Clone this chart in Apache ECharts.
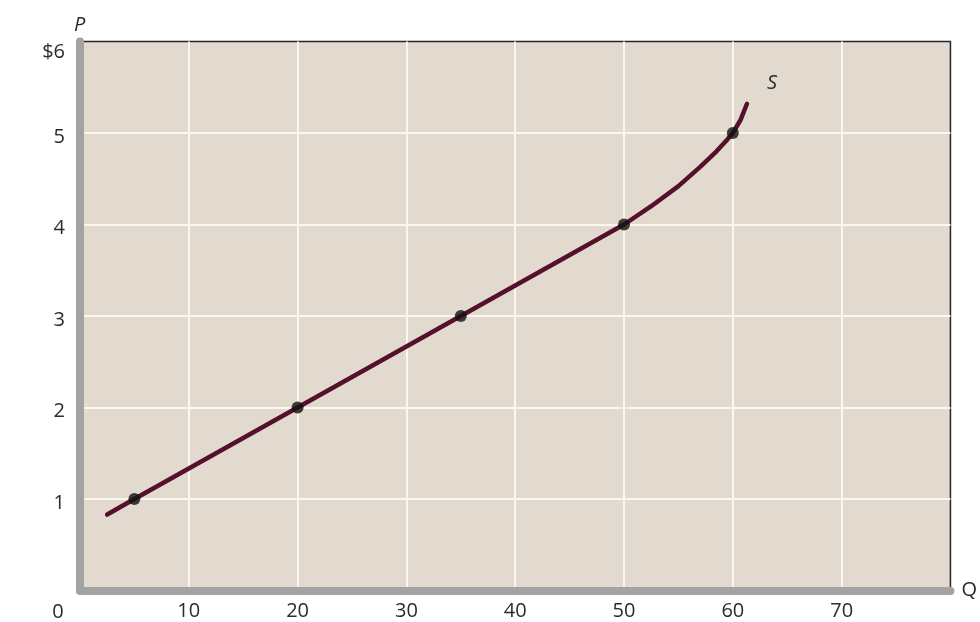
<!DOCTYPE html>
<html>
<head>
<meta charset="utf-8">
<script src="https://cdn.jsdelivr.net/npm/echarts@6/dist/echarts.min.js"></script>
<style>html,body{margin:0;padding:0;background:#fff;}#c{width:980px;height:622px;}</style>
</head>
<body>
<div id="c"></div>
<script>
// Supply schedule points (quantity, price)
const pointQ = [5, 20, 35, 50, 60];
const pointP = [1, 2, 3, 4, 5];
// Supply curve S
const curveQ = [2.5, 5, 20, 35, 50, 52.5, 55, 57, 58.5, 59.5, 60, 60.7, 61.3];
const curveP = [0.83, 1, 2, 3, 4, 4.2, 4.42, 4.63, 4.8, 4.93, 5, 5.14, 5.32];
const xTicks = [0, 10, 20, 30, 40, 50, 60, 70, 80];
const yTickLabels = ['', '1', '2', '3', '4', '5', '$6'];

const chart = echarts.init(document.getElementById('c'), null, {renderer: 'canvas'});
const font = '"Open Sans", sans-serif';
const txt = '#2b2b2b';
chart.setOption({
  animation: false,
  grid: {
    left: 80, right: 28, top: 41.5, bottom: 31.5,
    show: true, backgroundColor: '#e3dacf', borderColor: '#262626', borderWidth: 1.5
  },
  xAxis: {
    type: 'value', min: 0, max: 80, interval: 10,
    name: 'Q', nameLocation: 'end', nameGap: 11,
    nameTextStyle: {fontFamily: font, fontSize: 20, color: txt, verticalAlign: 'middle'},
    axisLine: {show: true, onZero: false, lineStyle: {color: '#a3a3a3', width: 8}},
    axisTick: {show: false},
    axisLabel: {
      margin: 11, fontFamily: font, fontSize: 20, color: txt,
      formatter: v => (v === 0 || v === 80) ? '' : String(v)
    },
    splitLine: {show: true, showMinLine: false, showMaxLine: false, lineStyle: {color: '#fbf6ee', width: 2}}
  },
  yAxis: {
    type: 'value', min: 0, max: 6, interval: 1,
    name: 'P', nameLocation: 'end', nameGap: 6,
    nameTextStyle: {fontFamily: font, fontSize: 20, fontStyle: 'italic', color: txt, align: 'left', padding: [0, 0, 0, -6]},
    axisLine: {show: true, onZero: false, lineStyle: {color: '#a3a3a3', width: 8}},
    axisTick: {show: false},
    axisLabel: {
      margin: 15, fontFamily: font, fontSize: 20, color: txt,
      formatter: (v) => {
        const s = yTickLabels[Math.round(v)] || '';
        return Math.round(v) === 6 ? '{t|' + s + '}' : '{n|' + s + '}';
      },
      rich: {
        n: {fontFamily: font, fontSize: 20, color: txt, padding: [8, 0, 0, 0]},
        t: {fontFamily: font, fontSize: 20, color: txt, padding: [22, 0, 0, 0]}
      }
    },
    splitLine: {show: true, showMinLine: false, showMaxLine: false, lineStyle: {color: '#fbf6ee', width: 2}}
  },
  graphic: [{
    type: 'text', x: 58, y: 612,
    style: {text: '0', fontFamily: font, fontSize: 20, fill: txt, align: 'center', verticalAlign: 'middle'}
  }],
  series: [{
    type: 'line',
    data: curveQ.map((q, i) => [q, curveP[i]]),
    smooth: false,
    showSymbol: false,
    lineStyle: {color: '#55102b', width: 4.5, join: 'round', cap: 'round'},
    endLabel: {show: true, formatter: 'S', offset: [12, -20], fontFamily: font, fontSize: 20, color: txt, fontStyle: 'italic'},
    z: 3
  }, {
    type: 'scatter',
    data: pointQ.map((q, i) => [q, pointP[i]]),
    symbol: 'circle', symbolSize: 12,
    itemStyle: {color: '#111'},
    z: 4
  }]
});
</script>
</body>
</html>
